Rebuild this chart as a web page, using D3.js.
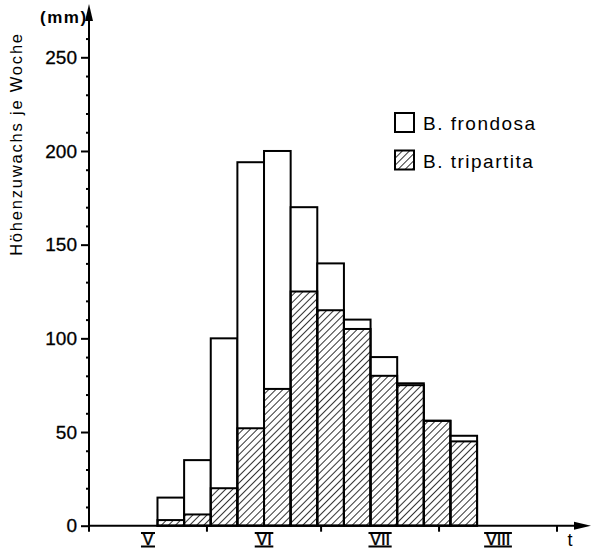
<!DOCTYPE html>
<html>
<head>
<meta charset="utf-8">
<script src="https://cdnjs.cloudflare.com/ajax/libs/d3/7.8.5/d3.min.js"></script>
<style>
  body { margin: 0; background: #fff; }
  svg { display: block; font-family: "Liberation Sans", Arial, sans-serif; }
</style>
</head>
<body>
<svg id="chart" width="591" height="554"></svg>
<script>
// one bar per week, start date (month-day)
const weekStarts = ["05-19", "05-26", "06-02", "06-09", "06-16", "06-23",
                    "06-30", "07-07", "07-14", "07-21", "07-28", "08-04"];
// height growth per week (mm)
const frondosa   = [15, 35, 100, 194, 200, 170, 140, 110, 90, 76, 56, 48];
const tripartita = [3, 6, 20, 52, 73, 125, 115, 105, 80, 75, 56, 45];
// months on the time axis
const monthStarts = ["05-01", "06-01", "07-01", "08-01", "09-01"];
const monthLabels = ["V", "VI", "VII", "VIII"];
const yTicks = [0, 50, 100, 150, 200, 250];
const yMinor = [10, 20, 30, 40, 60, 70, 80, 90, 110, 120, 130, 140, 160, 170, 180, 190, 210, 220, 230, 240, 260];

const parse = d3.timeParse("%m-%d");
const svg = d3.select("#chart");

// scales
const x = d3.scaleTime()
    .domain([parse(monthStarts[0]), parse(monthStarts[monthStarts.length - 1])])
    .range([89, 557]);
const y = d3.scaleLinear().domain([0, 250]).range([525.7, 57.3]);
const x0 = x.range()[0], y0 = y(0);

// hatch pattern
const defs = svg.append("defs");
defs.append("pattern")
    .attr("id", "hatch")
    .attr("patternUnits", "userSpaceOnUse")
    .attr("width", 5).attr("height", 5)
    .attr("patternTransform", "rotate(45)")
    .append("line")
    .attr("x1", 0).attr("y1", 0).attr("x2", 0).attr("y2", 5)
    .attr("stroke", "#000").attr("stroke-width", 1.6);

const bars = weekStarts.map((w, i) => {
    const s = parse(w);
    return { start: s, end: d3.timeDay.offset(s, 7), f: frondosa[i], t: tripartita[i] };
});

// B. frondosa bars (white, behind)
svg.append("g").selectAll("rect")
    .data(bars)
    .join("rect")
    .attr("x", d => x(d.start))
    .attr("width", d => x(d.end) - x(d.start))
    .attr("y", d => y(d.f))
    .attr("height", d => y0 - y(d.f))
    .attr("fill", "#fff")
    .attr("stroke", "#000")
    .attr("stroke-width", 2);

// B. tripartita bars (hatched, in front)
svg.append("g").selectAll("rect")
    .data(bars)
    .join("rect")
    .attr("x", d => x(d.start))
    .attr("width", d => x(d.end) - x(d.start))
    .attr("y", d => y(d.t))
    .attr("height", d => y0 - y(d.t))
    .attr("fill", "url(#hatch)")
    .attr("stroke", "#000")
    .attr("stroke-width", 2);

// y axis: minor ticks
svg.append("g")
    .attr("transform", `translate(${x0},0)`)
    .call(d3.axisLeft(y).tickValues(yMinor).tickSize(3).tickFormat(""))
    .call(g => g.select(".domain").remove())
    .call(g => g.selectAll("line").attr("stroke-width", 2));

// y axis: major ticks with labels
svg.append("g")
    .attr("transform", `translate(${x0},0)`)
    .call(d3.axisLeft(y).tickValues(yTicks).tickSize(8).tickPadding(4))
    .call(g => g.select(".domain").remove())
    .call(g => g.selectAll("line").attr("stroke-width", 2))
    .call(g => g.selectAll("text")
        .attr("font-family", "Liberation Sans, Arial, sans-serif")
        .attr("font-size", 19)
        .attr("fill", "#000")
        .attr("stroke", "#000")
        .attr("stroke-width", 0.3));

// axis lines with arrows
svg.append("line")
    .attr("x1", x0).attr("y1", y0 + 1).attr("x2", x0).attr("y2", 14)
    .attr("stroke", "#000").attr("stroke-width", 2);
svg.append("path")
    .attr("d", `M${x0},4 L${x0 - 4},21 L${x0 + 4},21 Z`)
    .attr("fill", "#000");
svg.append("line")
    .attr("x1", x0 - 1).attr("y1", y0).attr("x2", 580).attr("y2", y0)
    .attr("stroke", "#000").attr("stroke-width", 2);
svg.append("path")
    .attr("d", `M591,${y0} L574,${y0 - 4} L574,${y0 + 4} Z`)
    .attr("fill", "#000");

// month ticks on time axis
svg.append("g").selectAll("line")
    .data(monthStarts)
    .join("line")
    .attr("x1", d => x(parse(d))).attr("x2", d => x(parse(d)))
    .attr("y1", y0).attr("y2", y0 + 6)
    .attr("stroke", "#000").attr("stroke-width", 2);

// roman month labels with bars above and below
const months = svg.append("g").selectAll("g")
    .data(monthLabels)
    .join("g");
months.append("text")
    .attr("x", (d, i) => (x(parse(monthStarts[i])) + x(parse(monthStarts[i + 1]))) / 2)
    .attr("y", 545)
    .attr("text-anchor", "middle")
    .attr("font-size", 16.5)
    .attr("stroke", "#000")
    .attr("stroke-width", 0.4)
    .text(d => d);
months.each(function() {
    const g = d3.select(this);
    const b = g.select("text").node().getBBox();
    [533, 546.5].forEach(yy => {
        g.append("line")
            .attr("x1", b.x - 1.5).attr("x2", b.x + b.width + 1.5)
            .attr("y1", yy).attr("y2", yy)
            .attr("stroke", "#000").attr("stroke-width", 2);
    });
});

// axis titles
svg.append("text")
    .attr("x", 570).attr("y", 546)
    .attr("text-anchor", "middle")
    .attr("font-size", 18)
    .text("t");
svg.append("text")
    .attr("x", 40).attr("y", 23)
    .attr("font-size", 17)
    .attr("font-weight", "bold")
    .attr("letter-spacing", 1.5)
    .text("(mm)");
svg.append("text")
    .attr("transform", "translate(22,144) rotate(-90)")
    .attr("text-anchor", "middle")
    .attr("font-size", 16.5)
    .attr("letter-spacing", 1.8)
    .text("Höhenzuwachs je Woche");

// legend
const legendItems = [
    { label: "B. frondosa", fill: "#fff", y: 113 },
    { label: "B. tripartita", fill: "url(#hatch)", y: 150.5 }
];
const legend = svg.append("g").selectAll("g")
    .data(legendItems)
    .join("g")
    .attr("transform", d => `translate(395,${d.y})`);
legend.append("rect")
    .attr("width", 19).attr("height", 19)
    .attr("fill", d => d.fill)
    .attr("stroke", "#000").attr("stroke-width", 2);
legend.append("text")
    .attr("x", 28).attr("y", 17)
    .attr("font-size", 19)
    .attr("letter-spacing", 1.5)
    .text(d => d.label);
</script>
</body>
</html>
